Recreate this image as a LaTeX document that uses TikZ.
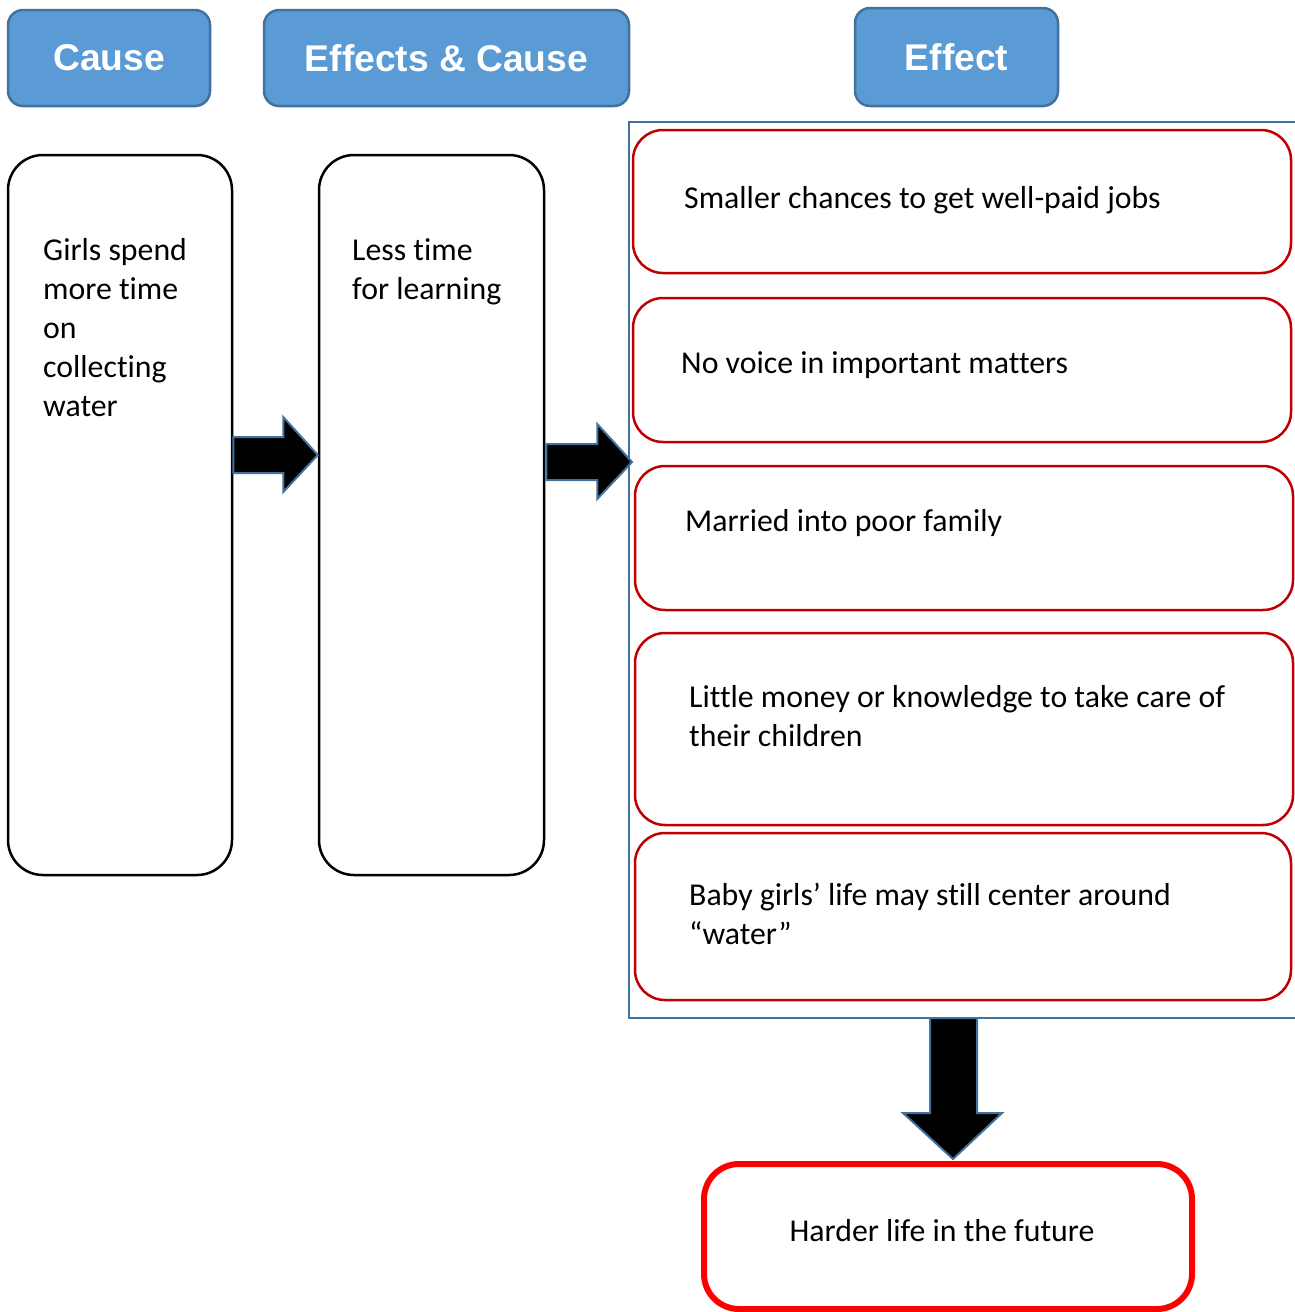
\documentclass[tikz,border=0pt]{standalone}
\usepackage{fontspec}
\setmainfont{Carlito}[Ligatures=NoCommon]
\newfontfamily\hdrfont{Liberation Sans}
\usetikzlibrary{calc}
\definecolor{hdrfill}{HTML}{5B9BD5}
\definecolor{hdrline}{HTML}{41719C}
\definecolor{darkred}{HTML}{C00000}
\definecolor{brightred}{HTML}{FF0000}
\begin{document}
\begin{tikzpicture}[x=1pt,y=-1pt,
  hdr/.style={draw=hdrline, fill=hdrfill, line width=2.5pt, rounded corners=15pt,
    text=white, font=\hdrfont\bfseries\fontsize{37.2}{44}\selectfont, inner sep=0pt},
  tallbox/.style={draw=black, line width=2.5pt, rounded corners=35pt,
    minimum height=720pt, inner sep=0pt},
  redbox/.style={draw=darkred, line width=2.5pt, rounded corners=30pt, inner sep=0pt},
  finalbox/.style={draw=brightred, line width=6pt, rounded corners=35pt, inner sep=0pt,
    minimum width=488pt, minimum height=145pt},
  body/.style={font=\fontsize{31.8}{39}\selectfont, align=left, anchor=base west, inner sep=0pt},
  barrow/.style={draw=hdrline, fill=black, line width=2pt, line join=miter},
  frame/.style={draw=hdrline, line width=2pt}]
\useasboundingbox (0,0) rectangle (1294,1312);

% headers
\node[hdr, minimum width=202pt, minimum height=96pt] (hcause) at (109,58) {Cause};
\node[hdr, minimum width=365pt, minimum height=96pt] (heffcause) at (446.5,58) {Effects \& Cause};
\node[hdr, minimum width=203pt, minimum height=98pt] (heffect) at (956.5,57) {Effect};

% tall boxes
\node[tallbox, minimum width=224pt] (lbox) at (120,515) {};
\node[tallbox, minimum width=225pt] (mbox) at (431.5,515) {};
% (base anchor of a multi-line node = baseline of its last line)
\node[body] (ltext) at (43,416) {Girls spend\\more time\\on\\collecting\\water};
\node[body] (mtext) at (352,299) {Less time\\for learning};

% effect container (open on the right)
\coordinate (cne) at (1300,122);
\coordinate (cnw) at (629,122);
\coordinate (csw) at (629,1018);
\coordinate (cse) at (1300,1018);
\draw[frame] (cne) -- (cnw) -- (csw) -- (cse);

% red boxes
\node[redbox, minimum width=658pt, minimum height=143pt] (r1) at (962,201.5) {};
\node[redbox, minimum width=658pt, minimum height=144pt] (r2) at (962,370) {};
\node[redbox, minimum width=658pt, minimum height=144pt] (r3) at (964,538) {};
\node[redbox, minimum width=658pt, minimum height=192pt] (r4) at (964,729) {};
\node[redbox, minimum width=656pt, minimum height=167pt] (r5) at (963,916.5) {};
\node[body] (t1) at (684,208) {Smaller chances to get well-paid jobs};
\node[body] (t2) at (681,373) {No voice in important matters};
\node[body] (t3) at (685,531) {Married into poor family};
\node[body] (t4) at (689,746) {Little money or knowledge to take care of\\their children};
\node[body] (t5) at (689,944) {Baby girls’ life may still center around\\“water”};

% final box
\node[finalbox] (final) at (948,1236.5) {};
\node[body, anchor=base] (tf) at (942,1241) {Harder life in the future};

% block arrows
\draw[barrow] ($(lbox.east)+(0,-78)$) -- ++(50,0) -- ++(0,-20)
  -- ($(mbox.west)+(0,-60)$) -- ($(lbox.east)+(50,-23)$) -- ++(0,-19) -- ++(-50,0) -- cycle;
\draw[barrow] ($(mbox.east)+(1,-71)$) -- ++(51,0) -- ++(0,-20)
  -- ($(cnw)+(3,340)$) -- ($(mbox.east)+(52,-16)$) -- ++(0,-19) -- ++(-51,0) -- cycle;
\coordinate (a3s) at ($(csw)+(324,0)$);
\draw[barrow] ($(a3s)+(-23,0)$) -- ++(0,95) -- ++(-27,0)
  -- ($(final.north)+(5,-2)$) -- ($(a3s)+(49,95)$) -- ++(-25,0) -- ++(0,-95) -- cycle;
\end{tikzpicture}
\end{document}
